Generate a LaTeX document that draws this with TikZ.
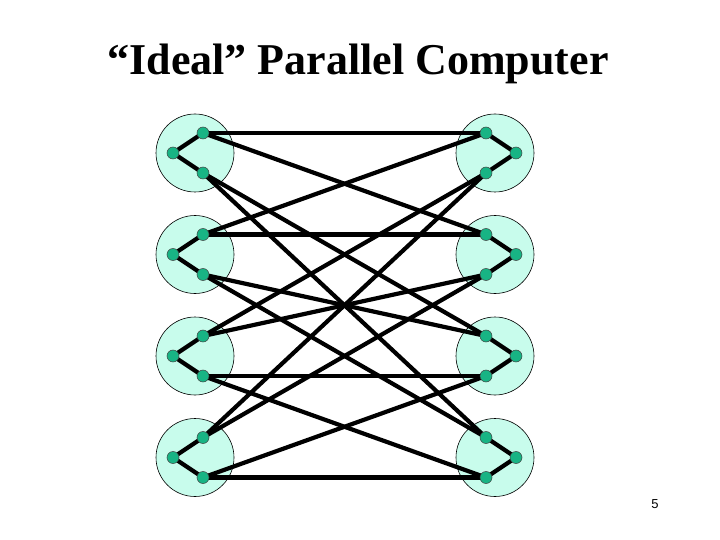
\documentclass[tikz,border=0pt]{standalone}
\usepackage{fontspec}
\setmainfont{Liberation Serif}
\newfontfamily\numfont{Liberation Sans}
\definecolor{procfill}{RGB}{200,252,236}
\definecolor{portgreen}{RGB}{24,180,132}
\pgfdeclarelayer{bglayer}
\pgfdeclarelayer{midlayer}
\pgfsetlayers{bglayer,midlayer,main}
\begin{document}
\begin{tikzpicture}[x=1pt,y=-1pt,
  proc/.style={circle, draw=black, line width=0.6pt, fill=procfill, minimum size=78pt, inner sep=0pt},
  port/.style={circle, draw=black!75, fill=portgreen, minimum size=12pt, inner sep=0pt, line width=0.5pt},
  link/.style={line width=4.2pt, black},
  inner link/.style={line width=4.2pt, black}]
\useasboundingbox (0,0) rectangle (720,540);
\node[anchor=base, font=\bfseries\fontsize{44}{48}\selectfont] (title) at (358,75) {“Ideal” Parallel Computer};
\node[anchor=base, font=\numfont\fontsize{13}{15}\selectfont] (pagenum) at (655,508) {5};
\foreach \i in {0,1,2,3}{
  \pgfmathsetmacro{\cy}{153+101.5*\i}
  \begin{pgfonlayer}{bglayer}
    \node[proc] (L\i) at (195,\cy) {};
    \node[proc] (R\i) at (495,\cy) {};
  \end{pgfonlayer}
  \node[port] (Lt\i) at (203,\cy-20) {};
  \node[port] (Lm\i) at (173,\cy) {};
  \node[port] (Lb\i) at (203,\cy+20) {};
  \node[port] (Rt\i) at (486,\cy-20) {};
  \node[port] (Rm\i) at (516,\cy) {};
  \node[port] (Rb\i) at (486,\cy+20) {};
  \begin{pgfonlayer}{midlayer}
    \draw[inner link] (Lt\i.center) -- (Lm\i.center) -- (Lb\i.center);
    \draw[inner link] (Rt\i.center) -- (Rm\i.center) -- (Rb\i.center);
  \end{pgfonlayer}
}
\begin{pgfonlayer}{midlayer}
  % L0
  \draw[link] (Lt0.center) -- (Rt0.center);
  \draw[link] (Lt0.center) -- (Rt1.center);
  \draw[link] (Lb0.center) -- (Rt2.center);
  \draw[link] (Lb0.center) -- (Rt3.center);
  % L1
  \draw[link] (Lt1.center) -- (Rt0.center);
  \draw[link] (Lt1.center) -- (Rt1.center);
  \draw[link] (Lb1.center) -- (Rt2.center);
  \draw[link] (Lb1.center) -- (Rt3.center);
  % L2
  \draw[link] (Lt2.center) -- (Rb0.center);
  \draw[link] (Lt2.center) -- (Rb1.center);
  \draw[link] (Lb2.center) -- (Rb2.center);
  \draw[link] (Lb2.center) -- (Rb3.center);
  % L3
  \draw[link] (Lt3.center) -- (Rb0.center);
  \draw[link] (Lt3.center) -- (Rb1.center);
  \draw[link] (Lb3.center) -- (Rb2.center);
  \draw[link] (Lb3.center) -- (Rb3.center);
\end{pgfonlayer}
\end{tikzpicture}
\end{document}
